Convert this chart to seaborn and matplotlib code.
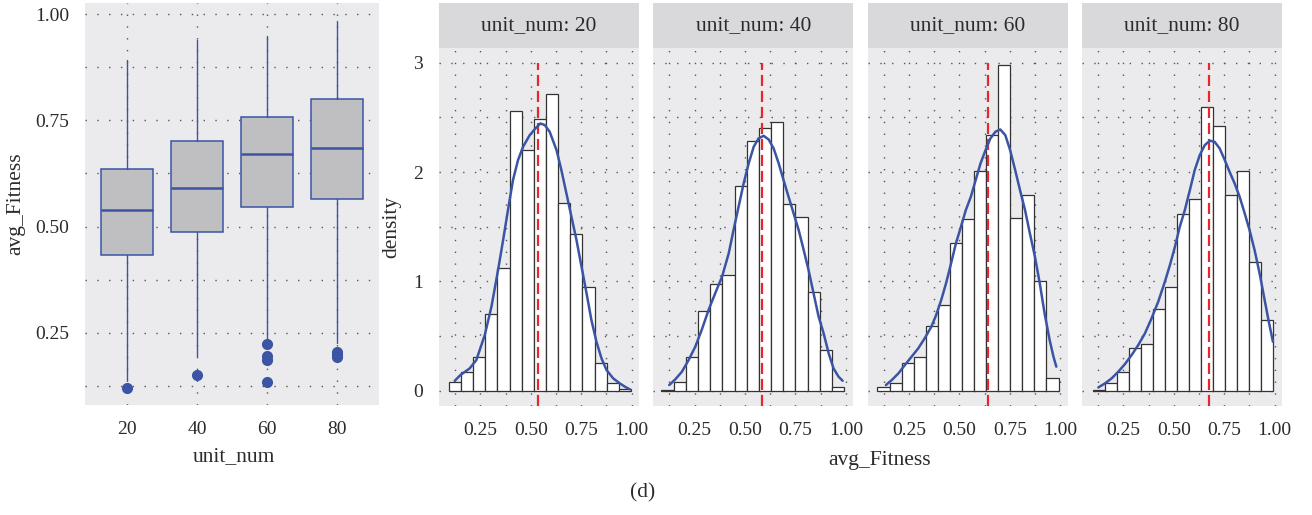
import matplotlib
matplotlib.use("Agg")
import matplotlib.pyplot as plt
import seaborn as sns
import pandas as pd
from matplotlib.ticker import FixedLocator

# ---- box plot summaries (avg_Fitness by unit_num) ----
unit_nums = [20, 40, 60, 80]
box_q1 = [0.434, 0.486, 0.547, 0.565]
box_med = [0.539, 0.591, 0.671, 0.685]
box_q3 = [0.635, 0.701, 0.758, 0.799]
whisker_lo = [0.139, 0.195, 0.233, 0.225]
whisker_hi = [0.893, 0.939, 0.948, 0.984]
outliers = [[0.121], [0.150], [0.223, 0.195, 0.187, 0.133], [0.205, 0.198, 0.192]]

# ---- histogram densities, 15 equal bins per facet ----
bin_lo = [0.094, 0.085, 0.094, 0.098]
bin_hi = [0.997, 0.992, 0.992, 0.992]
dens_20 = [0.082, 0.168, 0.305, 0.698, 1.122, 2.558, 2.198, 2.488, 2.713, 1.720,
           1.433, 0.951, 0.256, 0.067, 0.012]
dens_40 = [0.006, 0.082, 0.305, 0.732, 0.973, 1.058, 1.875, 2.280, 2.402, 2.457,
           1.707, 1.585, 0.902, 0.375, 0.030]
dens_60 = [0.030, 0.067, 0.256, 0.305, 0.595, 0.784, 1.348, 1.567, 2.009, 2.335,
           2.982, 1.582, 1.790, 1.006, 0.116]
dens_80 = [0.006, 0.067, 0.168, 0.390, 0.427, 0.750, 0.951, 1.619, 1.753, 2.591,
           2.421, 1.790, 2.009, 1.177, 0.646]

# ---- kernel density curves ----
kde_x_20 = [0.123, 0.151, 0.197, 0.230, 0.272, 0.305, 0.338, 0.363, 0.387, 0.412,
            0.437, 0.462, 0.495, 0.528, 0.548, 0.570, 0.594, 0.628, 0.652, 0.677,
            0.702, 0.727, 0.752, 0.777, 0.801, 0.826, 0.851, 0.876, 0.909, 0.942,
            0.967, 0.992]
kde_y_20 = [0.091, 0.143, 0.204, 0.280, 0.509, 0.768, 1.104, 1.378, 1.652, 1.927,
            2.110, 2.232, 2.338, 2.409, 2.445, 2.430, 2.369, 2.201, 2.018, 1.805,
            1.591, 1.378, 1.134, 0.890, 0.646, 0.448, 0.296, 0.189, 0.113, 0.067,
            0.037, 0.012]
kde_x_40 = [0.124, 0.154, 0.187, 0.220, 0.253, 0.286, 0.319, 0.353, 0.386, 0.419,
            0.443, 0.468, 0.493, 0.518, 0.543, 0.567, 0.592, 0.617, 0.642, 0.667,
            0.691, 0.716, 0.741, 0.766, 0.791, 0.815, 0.840, 0.865, 0.890, 0.915,
            0.939, 0.964, 0.984]
kde_y_40 = [0.052, 0.104, 0.174, 0.280, 0.402, 0.561, 0.738, 0.896, 1.043, 1.256,
            1.470, 1.683, 1.896, 2.079, 2.232, 2.308, 2.332, 2.299, 2.216, 2.079,
            1.927, 1.774, 1.622, 1.470, 1.287, 1.104, 0.890, 0.677, 0.524, 0.341,
            0.204, 0.128, 0.091]
kde_x_60 = [0.136, 0.165, 0.198, 0.230, 0.263, 0.296, 0.328, 0.361, 0.385, 0.410,
            0.434, 0.459, 0.483, 0.508, 0.532, 0.557, 0.581, 0.605, 0.630, 0.654,
            0.679, 0.703, 0.728, 0.752, 0.777, 0.801, 0.826, 0.850, 0.875, 0.899,
            0.923, 0.948, 0.967, 0.981]
kde_y_60 = [0.052, 0.098, 0.159, 0.235, 0.311, 0.387, 0.479, 0.585, 0.692, 0.829,
            0.982, 1.165, 1.348, 1.500, 1.652, 1.774, 1.927, 2.079, 2.201, 2.308,
            2.369, 2.390, 2.338, 2.201, 2.018, 1.835, 1.652, 1.439, 1.226, 0.982,
            0.707, 0.463, 0.311, 0.220]
kde_x_80 = [0.126, 0.159, 0.192, 0.225, 0.258, 0.291, 0.324, 0.357, 0.390, 0.423,
            0.456, 0.481, 0.506, 0.530, 0.555, 0.580, 0.604, 0.629, 0.654, 0.679,
            0.703, 0.728, 0.753, 0.777, 0.802, 0.827, 0.852, 0.876, 0.901, 0.926,
            0.951, 0.970, 0.992]
kde_y_80 = [0.030, 0.067, 0.113, 0.174, 0.244, 0.326, 0.418, 0.524, 0.662, 0.814,
            0.997, 1.149, 1.317, 1.500, 1.652, 1.835, 2.018, 2.155, 2.247, 2.287,
            2.277, 2.216, 2.110, 2.003, 1.896, 1.774, 1.622, 1.470, 1.287, 1.073,
            0.829, 0.646, 0.448]

# reference lines (dashed red)
center_line = [0.538, 0.586, 0.643, 0.677]

densities = [dens_20, dens_40, dens_60, dens_80]
kde_xs = [kde_x_20, kde_x_40, kde_x_60, kde_x_80]
kde_ys = [kde_y_20, kde_y_40, kde_y_60, kde_y_80]

# ---- styling ----
sns.set_theme(style="darkgrid")
plt.rcParams["font.family"] = ["Liberation Serif", "DejaVu Serif"]

PANEL = "#EBEBEE"
STRIP = "#D9D9DB"
BLUE = "#3B54A4"
BOX_FILL = "#BFBFC1"
RED = "#E8262B"
INK = "#2b2b2b"
GRID = dict(color="#555555", linestyle=(0, (1, 7.5)), linewidth=1.0)
TICK_FS = 14
LABEL_FS = 15.5

W, H = 1312, 515
fig = plt.figure(figsize=(W / 100, H / 100), dpi=100)


def rect(left, top, right, bottom):
    return [left / W, 1 - bottom / H, (right - left) / W, (bottom - top) / H]


def style_axes(ax):
    ax.set_facecolor(PANEL)
    for s in ax.spines.values():
        s.set_visible(False)
    ax.tick_params(which="major", length=7, width=0.9, color=INK,
                   labelcolor=INK, labelsize=TICK_FS, pad=4.5)
    ax.tick_params(which="minor", length=0)
    ax.set_xlabel("")
    ax.set_ylabel("")
    ax.set_axisbelow(True)


# ---- box plot panel ----
ax_box = fig.add_axes(rect(85, 3, 379, 405))
stats = []
for i, u in enumerate(unit_nums):
    stats.append(dict(label=str(u), q1=box_q1[i], med=box_med[i], q3=box_q3[i],
                      whislo=whisker_lo[i], whishi=whisker_hi[i],
                      fliers=outliers[i]))
ax_box.bxp(stats, positions=range(len(unit_nums)), widths=0.75,
           patch_artist=True, showcaps=False,
           boxprops=dict(facecolor=BOX_FILL, edgecolor=BLUE, linewidth=1.1),
           medianprops=dict(color=BLUE, linewidth=1.8),
           whiskerprops=dict(color=BLUE, linewidth=1.0),
           flierprops=dict(marker="o", markersize=7, markerfacecolor=BLUE,
                           markeredgecolor=BLUE, linestyle="none"))
style_axes(ax_box)
ax_box.set_xlim(-0.6, 3.6)
ax_box.set_ylim(0.08, 1.026)
ax_box.set_xticks(range(len(unit_nums)))
ax_box.set_xticklabels([str(u) for u in unit_nums])
ax_box.yaxis.set_major_locator(FixedLocator([0.25, 0.50, 0.75, 1.00]))
ax_box.set_yticklabels(["0.25", "0.50", "0.75", "1.00"])
ax_box.yaxis.set_minor_locator(FixedLocator([0.125, 0.375, 0.625, 0.875]))
ax_box.grid(False)
ax_box.grid(True, which="major", axis="x", **GRID)
ax_box.grid(True, which="both", axis="y", **GRID)

fig.text(234 / W, 1 - 457 / H, "unit_num", ha="center", va="center",
         fontsize=LABEL_FS, color=INK)
fig.text(16 / W, 1 - 204 / H, "avg_Fitness", ha="center", va="center",
         rotation=90, fontsize=LABEL_FS, color=INK)

# ---- histogram facets ----
lefts = [439.0, 653.3, 867.6, 1082.0]
pw = 200.0
for i, u in enumerate(unit_nums):
    l = lefts[i]
    ax = fig.add_axes(rect(l, 47.7, l + pw, 405.7))
    n_bins = len(densities[i])
    step = (bin_hi[i] - bin_lo[i]) / n_bins
    centers = [bin_lo[i] + step * (k + 0.5) for k in range(n_bins)]
    df = pd.DataFrame({"avg_Fitness": centers, "density": densities[i]})
    sns.histplot(data=df, x="avg_Fitness", weights="density", bins=n_bins,
                 binrange=(bin_lo[i], bin_hi[i]), stat="count", ax=ax,
                 color="white", alpha=1, edgecolor="#333333", linewidth=0.9)
    ax.vlines(center_line[i], -0.137, 3.0, colors=RED, linewidth=1.6,
              linestyles=[(0, (5, 2.2))], zorder=3)
    sns.lineplot(x=kde_xs[i], y=kde_ys[i], ax=ax, color=BLUE, linewidth=1.8,
                 zorder=4)
    style_axes(ax)
    ax.set_xlim(0.045, 1.037)
    ax.set_ylim(-0.137, 3.138)
    ax.xaxis.set_major_locator(FixedLocator([0.25, 0.50, 0.75, 1.00]))
    ax.set_xticklabels(["0.25", "0.50", "0.75", "1.00"])
    ax.xaxis.set_minor_locator(FixedLocator([0.125, 0.375, 0.625, 0.875]))
    ax.yaxis.set_major_locator(FixedLocator([0, 1, 2, 3]))
    ax.yaxis.set_minor_locator(FixedLocator([0.5, 1.5, 2.5]))
    ax.grid(False)
    ax.grid(True, which="both", **GRID)
    if i == 0:
        ax.set_yticklabels(["0", "1", "2", "3"])
    else:
        ax.tick_params(axis="y", which="major", length=0, labelleft=False)

    # facet strip
    sax = fig.add_axes(rect(l, 3.3, l + pw, 47.7))
    sax.set_facecolor(STRIP)
    sax.set_xticks([])
    sax.set_yticks([])
    sax.grid(False)
    for s in sax.spines.values():
        s.set_visible(False)
    sax.text(0.5, 0.5, f"unit_num: {u}", ha="center", va="center",
             transform=sax.transAxes, fontsize=LABEL_FS, color=INK)

fig.text(392 / W, 1 - 227 / H, "density", ha="center", va="center",
         rotation=90, fontsize=LABEL_FS, color=INK)
fig.text(880 / W, 1 - 460 / H, "avg_Fitness", ha="center", va="center",
         fontsize=LABEL_FS, color=INK)
fig.text(643 / W, 1 - 493 / H, "(d)", ha="center", va="center",
         fontsize=LABEL_FS, color=INK)

fig.savefig("out.png", dpi=100, facecolor="white")
